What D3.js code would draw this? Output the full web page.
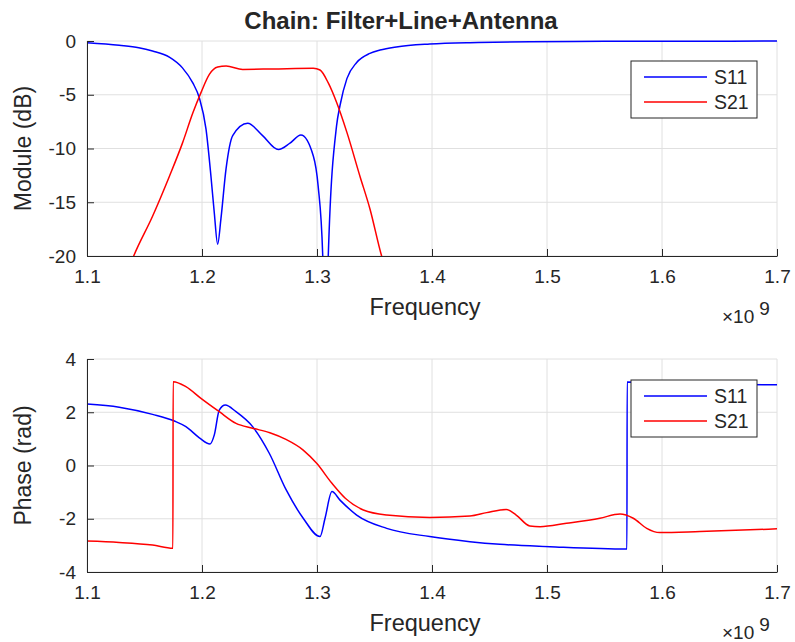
<!DOCTYPE html>
<html>
<head>
<meta charset="utf-8">
<script src="https://cdn.jsdelivr.net/npm/d3@7"></script>
<style>
  body { margin: 0; background: #fff; }
  text { font-family: "Liberation Sans", Arial, Helvetica, sans-serif; fill: #262626; }
</style>
</head>
<body>
<div id="chart"></div>
<script>
// frequencies in GHz (axis shows x 10^9)
const xTicks = [1.1, 1.2, 1.3, 1.4, 1.5, 1.6, 1.7];
const magTicks = [0, -5, -10, -15, -20];
const phaseTicks = [4, 2, 0, -2, -4];
const seriesNames = ['S11', 'S21'];
const seriesColors = ['#0000ff', '#ff0000'];

// S11 module (dB)
const s11MagFreq = [1.100, 1.128, 1.145, 1.157, 1.1716, 1.183, 1.192, 1.1977, 1.2035, 1.2078, 1.2107, 1.2136, 1.2165, 1.2209,
  1.2267, 1.2397, 1.2527, 1.2664, 1.2765, 1.286, 1.2968, 1.301, 1.305, 1.3074, 1.3098, 1.317, 1.320, 1.326, 1.3345,
  1.346, 1.3548, 1.369, 1.398, 1.44, 1.485, 1.55, 1.62, 1.70];
const s11MagDb = [-0.16, -0.40, -0.62, -0.93, -1.5, -2.5, -3.9, -5.3, -8.2, -12.6, -16.0, -18.9, -16.5, -11.9,
  -8.8, -7.66, -8.8, -10.1, -9.5, -8.75, -10.7, -13.5, -20, -35, -20, -7.9, -6.0, -3.5, -2.0,
  -1.15, -0.84, -0.55, -0.28, -0.14, -0.06, -0.03, -0.02, -0.01];

// S21 module (dB)
const s21MagFreq = [1.130, 1.1406, 1.157, 1.1716, 1.183, 1.192, 1.1991, 1.2064, 1.2136, 1.221, 1.2354, 1.2615, 1.2968,
  1.3026, 1.3098, 1.317, 1.326, 1.3374, 1.346, 1.3562, 1.366];
const s21MagDb = [-23, -20, -16.3, -12.6, -9.5, -6.7, -4.8, -3.1, -2.42, -2.33, -2.64, -2.6, -2.54,
  -2.7, -3.9, -5.7, -8.5, -12.6, -15.6, -20, -23];

// S11 phase (rad)
const s11PhFreq = [1.100, 1.128, 1.157, 1.176, 1.186, 1.1977, 1.207, 1.2107, 1.215, 1.2203, 1.2296, 1.244, 1.2585,
  1.273, 1.288, 1.3026, 1.307, 1.313, 1.320, 1.3345, 1.3606, 1.398, 1.433, 1.459, 1.5026, 1.5695, 1.5697, 1.60, 1.70];
const s11PhRad = [2.31, 2.19, 1.92, 1.67, 1.46, 1.04, 0.81, 1.15, 2.08, 2.27, 2.02, 1.46, 0.46,
  -0.90, -1.98, -2.67, -1.98, -0.98, -1.3, -1.86, -2.36, -2.67, -2.86, -2.96, -3.05, -3.14, 3.14, 3.09, 3.03];

// S21 phase (rad)
const s21PhFreq = [1.100, 1.128, 1.157, 1.1747, 1.1749, 1.186, 1.1991, 1.215, 1.2296, 1.244, 1.259, 1.273, 1.288,
  1.2997, 1.313, 1.3246, 1.3403, 1.3606, 1.398, 1.433, 1.4475, 1.4645, 1.4732, 1.485, 1.494, 1.517, 1.546,
  1.5635, 1.575, 1.5867, 1.598, 1.633, 1.70];
const s21PhRad = [-2.84, -2.89, -2.99, -3.11, 3.15, 2.96, 2.52, 2.02, 1.58, 1.40, 1.23, 0.98, 0.58,
  0.08, -0.67, -1.23, -1.67, -1.86, -1.95, -1.90, -1.77, -1.65, -1.86, -2.27, -2.30, -2.17, -1.98,
  -1.82, -1.98, -2.36, -2.52, -2.48, -2.38];

const width = 795, height = 642;
const svg = d3.select('#chart').append('svg')
  .attr('width', width)
  .attr('height', height);

const zip = (xs, ys) => xs.map((x, i) => ({ x: x, y: ys[i] }));

function drawPanel(opts)
{
  const x = d3.scaleLinear().domain([1.1, 1.7]).range([87, 777]);
  const y = d3.scaleLinear().domain(opts.yDomain).range([opts.bottom, opts.top]);
  const g = svg.append('g');

  // grid
  g.append('g')
    .selectAll('line.vx')
    .data(xTicks)
    .enter().append('line')
      .attr('x1', d => x(d)).attr('x2', d => x(d))
      .attr('y1', opts.top).attr('y2', opts.bottom)
      .attr('stroke', '#e0e0e0').attr('stroke-width', 1);
  g.append('g')
    .selectAll('line.hy')
    .data(opts.yTicks)
    .enter().append('line')
      .attr('x1', 87).attr('x2', 777)
      .attr('y1', d => y(d)).attr('y2', d => y(d))
      .attr('stroke', '#e0e0e0').attr('stroke-width', 1);

  // lines, clipped to the axes box
  const clipId = 'clip-' + opts.id;
  svg.append('clipPath').attr('id', clipId)
    .append('rect')
      .attr('x', 87).attr('y', opts.top - 1)
      .attr('width', 690).attr('height', opts.bottom - opts.top + 2);

  const line = d3.line()
    .x(d => x(d.x))
    .y(d => y(d.y))
    .curve(d3.curveMonotoneX);

  const plot = g.append('g').attr('clip-path', `url(#${clipId})`);
  opts.series.forEach((s, i) => {
    plot.append('path')
      .datum(s)
      .attr('fill', 'none')
      .attr('stroke', seriesColors[i])
      .attr('stroke-width', 1.5)
      .attr('d', line);
  });

  // axes (ticks inward, no box)
  const xAxis = g.append('g')
    .attr('transform', `translate(0,${opts.bottom})`)
    .call(d3.axisBottom(x).tickValues(xTicks).tickFormat(d => d.toFixed(1))
      .tickSizeInner(-7).tickSizeOuter(0).tickPadding(14));
  const yAxis = g.append('g')
    .attr('transform', 'translate(87,0)')
    .call(d3.axisLeft(y).tickValues(opts.yTicks).tickFormat(d => String(d))
      .tickSizeInner(-7).tickSizeOuter(0).tickPadding(11));
  [xAxis, yAxis].forEach(a => {
    a.select('.domain').attr('stroke', '#262626').attr('stroke-width', 1);
    a.selectAll('.tick line').attr('stroke', '#262626');
    a.selectAll('.tick text').attr('fill', '#262626').style('font-size', '19px');
  });

  // axis labels
  g.append('text')
    .attr('x', 425).attr('y', opts.bottom + 59)
    .attr('text-anchor', 'middle')
    .style('font-size', '23.5px')
    .text('Frequency');
  const exp = g.append('text')
    .attr('x', 722).attr('y', opts.bottom + 67)
    .style('font-size', '19px');
  exp.append('tspan').text('\u00d710');
  exp.append('tspan').attr('dx', 5).attr('dy', -8).style('font-size', '19px').text('9');

  g.append('text')
    .attr('transform', `translate(31,${(opts.top + opts.bottom) / 2}) rotate(-90)`)
    .attr('text-anchor', 'middle')
    .style('font-size', '23px')
    .text(opts.ylabel);

  // legend
  const lg = g.append('g').attr('transform', `translate(${opts.legend[0]},${opts.legend[1]})`);
  lg.append('rect')
    .attr('width', 126).attr('height', 57)
    .attr('fill', '#fff').attr('stroke', '#262626').attr('stroke-width', 1);
  seriesNames.forEach((name, i) => {
    const ly = 16 + i * 25;
    lg.append('line')
      .attr('x1', 13).attr('x2', 76).attr('y1', ly).attr('y2', ly)
      .attr('stroke', seriesColors[i]).attr('stroke-width', 1.5);
    lg.append('text')
      .attr('x', 83).attr('y', ly + 7)
      .style('font-size', '19.5px')
      .text(name);
  });
}

drawPanel({
  id: 'mag', top: 41, bottom: 256, yDomain: [-20, 0], yTicks: magTicks,
  ylabel: 'Module (dB)', legend: [631, 61],
  series: [zip(s11MagFreq, s11MagDb), zip(s21MagFreq, s21MagDb)],
});

drawPanel({
  id: 'phase', top: 359, bottom: 572, yDomain: [-4, 4], yTicks: phaseTicks,
  ylabel: 'Phase (rad)', legend: [631, 380],
  series: [zip(s11PhFreq, s11PhRad), zip(s21PhFreq, s21PhRad)],
});

svg.append('text')
  .attr('x', 401).attr('y', 29)
  .attr('text-anchor', 'middle')
  .style('font-size', '24px')
  .style('font-weight', 'bold')
  .text('Chain: Filter+Line+Antenna');
</script>
</body>
</html>
